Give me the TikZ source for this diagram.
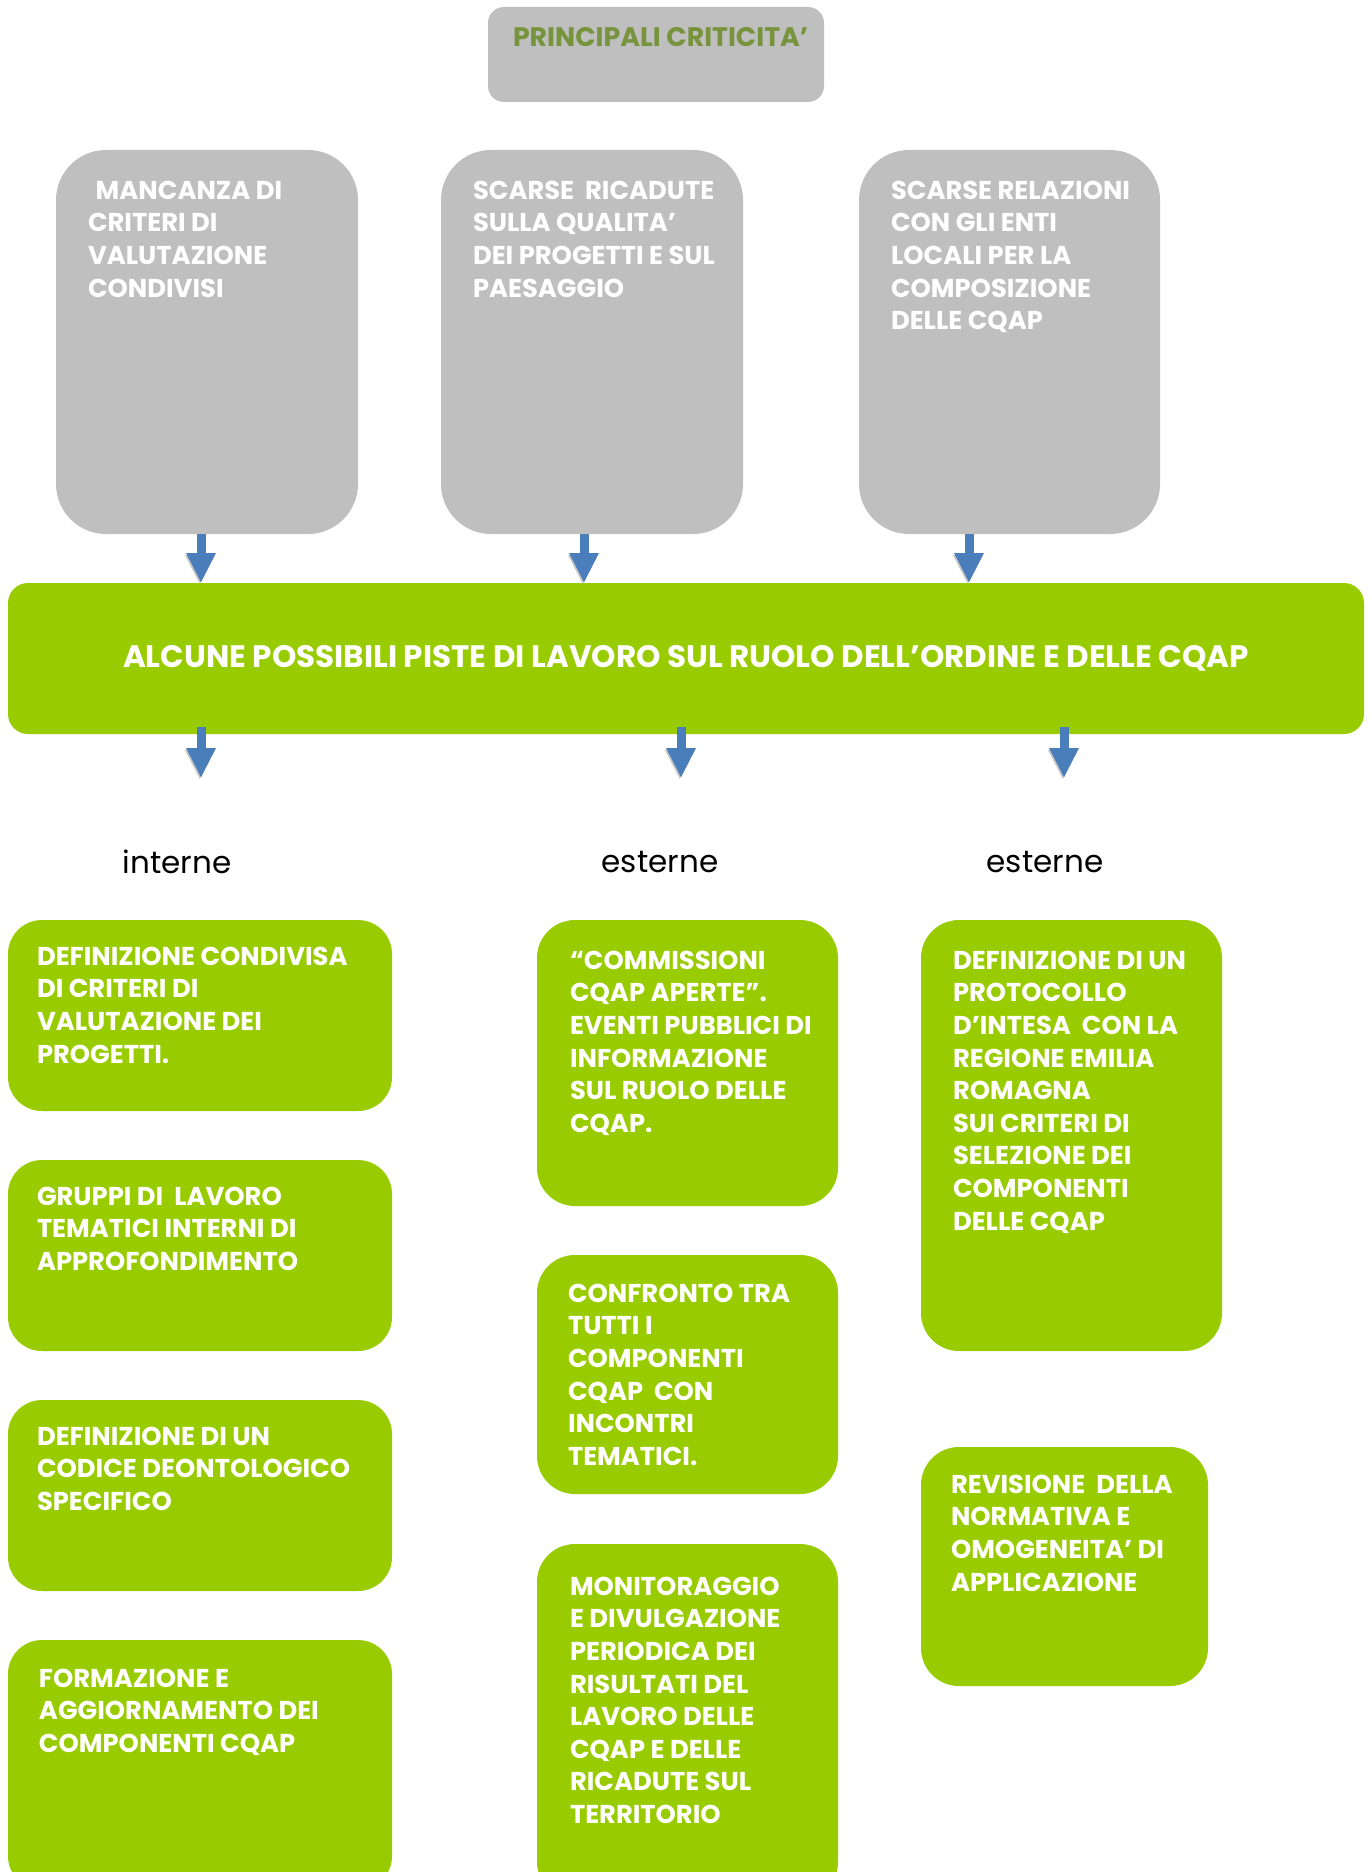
\documentclass[tikz,border=0pt]{standalone}
\usepackage{fontspec}
\setmainfont{Poppins}
\usetikzlibrary{arrows.meta,fit}
\definecolor{grigio}{HTML}{BFBFBF}
\definecolor{verde}{HTML}{99CC00}
\definecolor{oliva}{HTML}{77933C}
\definecolor{blu}{HTML}{4A7EBB}
\tikzset{
  grigiobox/.style={fill=grigio, rounded corners=25pt, inner sep=0pt},
  verdebox/.style={fill=verde, rounded corners=17pt, inner sep=0pt},
  verdetondo/.style={fill=verde, rounded corners=19pt, inner sep=0pt},
  testo/.style={anchor=north west, inner sep=0pt, align=left, text=white,
    font=\bfseries\fontsize{12.9}{16.3}\selectfont},
  freccia/.style={blu, line width=4.5pt, -{Triangle[width=13.75pt,length=15pt]},
    preaction={draw=black!22, transform canvas={shift={(-0.6pt,-0.9pt)}}}},
  etichetta/.style={inner sep=0pt, font=\fontsize{15.5}{18}\selectfont},
}
\begin{document}
\begin{tikzpicture}[x=0.5pt,y=-0.5pt]
\clip (0,0) rectangle (1371,1872);
% titolo
\node[grigiobox, rounded corners=8pt, fit={(488,7)(824,102)}] (tit) {};
\node[testo, text=oliva, font=\bfseries\fontsize{13.4}{16}\selectfont] at ([shift={(25,20)}]tit.north west) {PRINCIPALI CRITICITA’};
% criticita
\node[grigiobox, fit={(56,150)(358,534)}] (c1) {};
\node[grigiobox, fit={(441,150)(743,534)}] (c2) {};
\node[grigiobox, fit={(859,150)(1160,534)}] (c3) {};
\node[testo] at ([shift={(32,31)}]c1.north west) {\hspace*{0.3em}MANCANZA DI\\CRITERI DI\\VALUTAZIONE\\CONDIVISI};
\node[testo] at ([shift={(32,31)}]c2.north west) {SCARSE~ RICADUTE\\SULLA QUALITA’\\DEI PROGETTI E SUL\\PAESAGGIO};
\node[testo] at ([shift={(32,31)}]c3.north west) {SCARSE RELAZIONI\\CON GLI ENTI\\LOCALI PER LA\\COMPOSIZIONE\\DELLE CQAP};
% piste di lavoro
\node[verdebox, rounded corners=10pt, fit={(8,583)(1364,734)}] (piste) {};
\node[inner sep=0pt, text=white, font=\bfseries\fontsize{15.5}{18}\selectfont] (pistet) at (686,658) {ALCUNE POSSIBILI PISTE DI LAVORO SUL RUOLO DELL’ORDINE E DELLE CQAP};
\coordinate (p1) at (201,583);
\coordinate (p2) at (584,583);
\coordinate (p3) at (969,583);
\draw[freccia] (c1.south -| p1) -- (p1);
\draw[freccia] (c2.south -| p2) -- (p2);
\draw[freccia] (c3.south -| p3) -- (p3);
\coordinate (q1) at (201,778);
\coordinate (q2) at (681,778);
\coordinate (q3) at (1064,778);
\draw[freccia] (piste.south -| q1) ++(0,-7) -- (q1);
\draw[freccia] (piste.south -| q2) ++(0,-7) -- (q2);
\draw[freccia] (piste.south -| q3) ++(0,-7) -- (q3);
\node[etichetta] (int) at (177,862) {interne};
\node[etichetta] (est1) at (660,862) {esterne};
\node[etichetta] (est2) at (1045,862) {esterne};
% colonna interne
\node[verdebox, fit={(8,920)(392,1111)}] (i1) {};
\node[verdebox, fit={(8,1160)(392,1351)}] (i2) {};
\node[verdebox, fit={(8,1400)(392,1591)}] (i3) {};
\node[verdebox, fit={(8,1640)(392,1890)}] (i4) {};
\node[testo] at ([shift={(29,27)}]i1.north west) {DEFINIZIONE CONDIVISA\\DI CRITERI DI\\VALUTAZIONE DEI\\PROGETTI.};
\node[testo] at ([shift={(29,27)}]i2.north west) {GRUPPI DI~ LAVORO\\TEMATICI INTERNI DI\\APPROFONDIMENTO};
\node[testo] at ([shift={(29,27)}]i3.north west) {DEFINIZIONE DI UN\\CODICE DEONTOLOGICO\\SPECIFICO};
\node[testo] at ([shift={(31,29)}]i4.north west) {FORMAZIONE E\\AGGIORNAMENTO DEI\\COMPONENTI CQAP};
% colonna esterne
\node[verdetondo, fit={(537,920)(838,1206)}] (e1) {};
\node[verdetondo, fit={(537,1255)(838,1494)}] (e2) {};
\node[verdetondo, fit={(537,1544)(838,1900)}] (e3) {};
\node[testo] at ([shift={(33,31)}]e1.north west) {“COMMISSIONI\\CQAP APERTE”.\\EVENTI PUBBLICI DI\\INFORMAZIONE\\SUL RUOLO DELLE\\CQAP.};
\node[testo] at ([shift={(31,29)}]e2.north west) {CONFRONTO TRA\\TUTTI I\\COMPONENTI\\CQAP~ CON\\INCONTRI\\TEMATICI.};
\node[testo] at ([shift={(33,33)}]e3.north west) {MONITORAGGIO\\E DIVULGAZIONE\\PERIODICA DEI\\RISULTATI DEL\\LAVORO DELLE\\CQAP E DELLE\\RICADUTE SUL\\TERRITORIO};
% seconda colonna esterne
\node[verdetondo, fit={(921,920)(1222,1351)}] (f1) {};
\node[verdetondo, fit={(921,1447)(1208,1686)}] (f2) {};
\node[testo] at ([shift={(32,31)}]f1.north west) {DEFINIZIONE DI UN\\PROTOCOLLO\\D’INTESA~ CON LA\\REGIONE EMILIA\\ROMAGNA\\SUI CRITERI DI\\SELEZIONE DEI\\COMPONENTI\\DELLE CQAP};
\node[testo] at ([shift={(30,28)}]f2.north west) {REVISIONE~ DELLA\\NORMATIVA E\\OMOGENEITA’ DI\\APPLICAZIONE};
\end{tikzpicture}
\end{document}
